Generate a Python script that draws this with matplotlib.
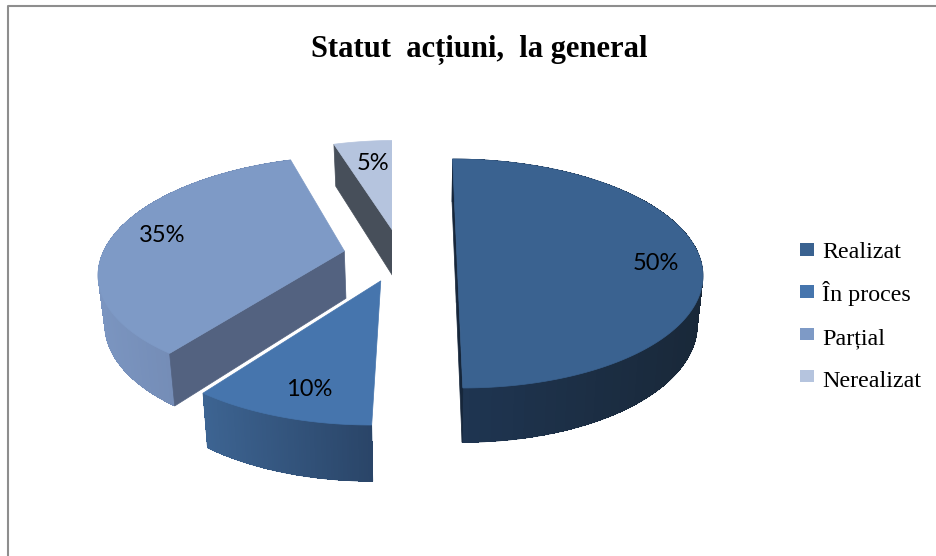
import numpy as np
import matplotlib
matplotlib.use("Agg")
import matplotlib.pyplot as plt
from matplotlib.collections import PolyCollection
from matplotlib.colors import to_rgb
from matplotlib.patches import Polygon, Rectangle

title = "Statut  acțiuni,  la general"
categories = ["Realizat", "În proces", "Parțial", "Nerealizat"]
values = [50, 10, 35, 5]

top_colors = ["#3a6290", "#4675ad", "#7e9ac6", "#b5c4de"]
cut_colors = ["#16263a", "#2a4568", "#536280", "#474f5a"]
wall_left = ["#1f3653", "#3d6492", "#7b95c0", "#5a6880"]
wall_right = ["#192839", "#2a4568", "#6a80a8", "#474f5a"]
# which cut faces of each slice can be seen: 0 = first edge, -1 = last edge
visible_cuts = [(0, -1), (), (0,), (0,)]
# the back slice has no visible wall and a straight right side in the picture
has_wall = [True, True, True, False]
clip_right = [None, None, None, 392.5]

# pixel position of each percent label
label_x = [656, 309, 162, 373]
label_y = [263, 389, 235, 164]

# projection of the tilted pie, fitted to the picture (pixels)
VANISH_X = 426
CENTER_Y = 255
RADIUS_X = 242
RADIUS_Y = 111.5
PERSPECTIVE = 0.1615
SHIFT_X = 26
EXPLODE = 0.235


def project(x, y, lower=False):
    """Turns pie plane coordinates into pixels, lower=True gives the underside."""
    f = 1 / (1 + PERSPECTIVE * y)
    sx = VANISH_X + (RADIUS_X * x - SHIFT_X) * f
    sy = CENTER_Y - RADIUS_Y * y * f
    if lower:
        sx = VANISH_X + (sx - VANISH_X) * 0.98
        sy = sy + 12.6 + 35 * f
    return np.column_stack([sx, sy])


def draw_slice(ax, start, stop, top_color, cut_color, left, right, cuts, wall, clip_x):
    """Draws one exploded slice (angles in radians, clockwise from the top)."""
    middle = (start + stop) / 2
    apex_x, apex_y = EXPLODE * np.sin(middle), EXPLODE * np.cos(middle)
    angles = np.linspace(start, stop, 160)
    rim_x = apex_x + np.sin(angles)
    rim_y = apex_y + np.cos(angles)
    upper = project(rim_x, rim_y)
    under = project(rim_x, rim_y, lower=True)
    apex_up = project(np.array([apex_x]), np.array([apex_y]))
    apex_low = project(np.array([apex_x]), np.array([apex_y]), lower=True)
    artists = []

    # outer wall: flat polygon first, shaded overlapping strips on top of it
    if wall:
        xs = upper[:, 0]
        c0, c1 = np.array(to_rgb(left)), np.array(to_rgb(right))
        artists.append(ax.add_patch(Polygon(np.vstack([upper, under[::-1]]), closed=True,
                                            fc=(c0 + c1) / 2, ec=(c0 + c1) / 2, lw=0.5)))
        strips, colors = [], []
        for i in range(0, len(angles) - 1, 2):
            j = min(i + 4, len(angles) - 1)
            strips.append(np.vstack([upper[i], upper[j], under[j], under[i]]))
            colors.append(c0 + (c1 - c0) * (xs[i] - xs.min()) / (xs.max() - xs.min()))
        artists.append(ax.add_collection(PolyCollection(strips, facecolors=colors,
                                                        edgecolors="none", antialiaseds=False)))

    for cut in cuts:
        face = np.vstack([apex_up, upper[cut], under[cut], apex_low])
        artists.append(ax.add_patch(Polygon(face, closed=True, fc=cut_color, ec=cut_color, lw=0.5)))

    # top face
    artists.append(ax.add_patch(Polygon(np.vstack([apex_up, upper]), closed=True,
                                        fc=top_color, ec=top_color, lw=0.5)))

    if clip_x is not None:
        box = Rectangle((0, 0), clip_x, 556, transform=ax.transData)
        for artist in artists:
            artist.set_clip_path(box)


fig = plt.figure(figsize=(9.37, 5.56), dpi=100)
ax = fig.add_axes([0, 0, 1, 1])
ax.set_xlim(0, 937)
ax.set_ylim(556, 0)
ax.axis("off")

# chart frame, only left and top are inside the picture
ax.plot([8.5, 8.5, 937], [556, 6, 6], color="#8e8e8e", lw=1.5)

ax.text(479, 57, title, family="Liberation Serif", weight="bold", fontsize=22,
        ha="center", va="baseline", color="black")

edges = np.cumsum([0] + values) / sum(values) * 2 * np.pi
for i in [3, 2, 0, 1]:
    draw_slice(ax, edges[i], edges[i + 1], top_colors[i], cut_colors[i],
               wall_left[i], wall_right[i], visible_cuts[i], has_wall[i], clip_right[i])

for i, v in enumerate(values):
    ax.text(label_x[i], label_y[i], f"{v}%", family="Lato", fontsize=17,
            ha="center", va="center", color="black")

# legend
for i, name in enumerate(categories):
    ax.add_patch(Rectangle((800, 243 + 42.3 * i), 14, 12.5, fc=top_colors[i], ec="none"))
    ax.text(822, 258 + 43 * i, name, family="Liberation Serif", fontsize=17.3,
            ha="left", va="baseline", color="black")

fig.savefig("out.png", dpi=100)
